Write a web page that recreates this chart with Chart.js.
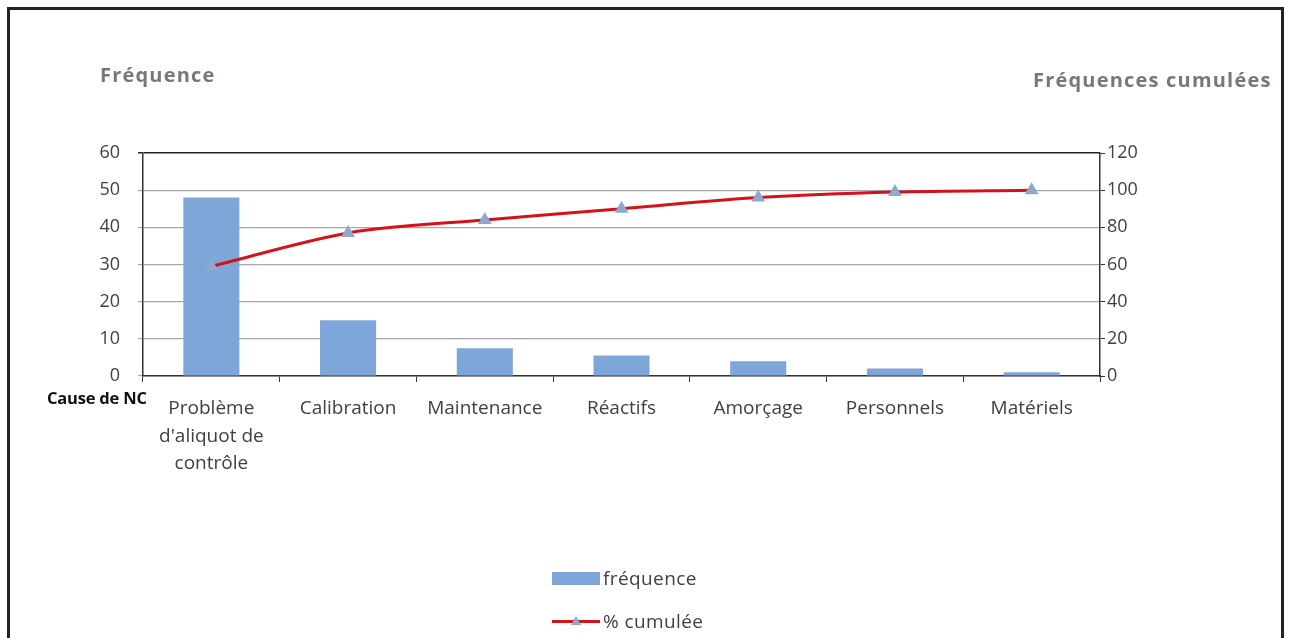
<!DOCTYPE html>
<html lang="fr">
<head>
<meta charset="utf-8">
<script src="https://cdn.jsdelivr.net/npm/chart.js@4.4.1/dist/chart.umd.min.js"></script>
<style>
  html, body { margin: 0; padding: 0; background: #fff; }
  body { width: 1289px; height: 638px; position: relative; overflow: hidden; font-family: 'Open Sans', sans-serif; }
  .frame { position: absolute; left: 7px; top: 7px; width: 1277px; height: 700px; border: 3px solid #222; box-sizing: border-box; }
  #wrap { position: absolute; left: 0; top: 0; width: 1289px; height: 638px; }
  .axis-title { position: absolute; font-weight: 700; font-size: 20px; letter-spacing: 1.2px; color: #7b7580; }
  .cause { position: absolute; left: 47px; top: 386px; font-size: 16.5px; font-weight: 700; color: #111; letter-spacing: -0.2px; }
  .legend { position: absolute; left: 552px; font-size: 19px; letter-spacing: 0.4px; color: #404040; display: flex; align-items: center; }
  .legend .sw { width: 48px; height: 13px; margin-right: 3px; position: relative; }
  .legend .bar { background: #7fa6d9; }
  .legend .line::before { content: ''; position: absolute; left: 0; right: 0; top: 5px; height: 3px; background: #d4121a; }
  .legend .line::after { content: ''; position: absolute; left: 19px; top: 1px; width: 0; height: 0;
    border-left: 5px solid transparent; border-right: 5px solid transparent; border-bottom: 9px solid #8fa8d0; }
</style>
</head>
<body>
<div class="frame"></div>
<div id="wrap"><canvas id="chart" width="1289" height="638"></canvas></div>
<div class="axis-title" style="left:100px; top:61px;">Fréquence</div>
<div class="axis-title" style="left:1033px; top:66px;">Fréquences cumulées</div>
<div class="cause">Cause de NC</div>
<div class="legend" style="top:565px;"><span class="sw bar"></span>fréquence</div>
<div class="legend" style="top:608px;"><span class="sw line"></span>% cumulée</div>
<script>
const causes = [
  ['Problème', "d'aliquot de", 'contrôle'],
  'Calibration',
  'Maintenance',
  'Réactifs',
  'Amorçage',
  'Personnels',
  'Matériels',
];
const frequence = [48, 15, 7.5, 5.5, 4, 2, 1];
const cumulee = [59, 77, 84, 90, 96, 99, 100];
const leftTicks = [0, 10, 20, 30, 40, 50, 60];
const rightTicks = [0, 20, 40, 60, 80, 100, 120];

const textColor = '#404040';
const xFont = { family: "'Open Sans', sans-serif", size: 19, lineHeight: 1.45 };
const yFont = { family: "'Open Sans', sans-serif", size: 18 };

const ctx = document.getElementById('chart').getContext('2d');
new Chart(ctx, {
  data: {
    labels: causes,
    datasets: [
      {
        type: 'line',
        label: '% cumulée',
        data: cumulee,
        yAxisID: 'y1',
        borderColor: '#d4121a',
        borderWidth: 3,
        tension: 0.3,
        pointStyle: 'triangle',
        pointRadius: 5,
        pointBackgroundColor: '#8fa8d0',
        pointBorderColor: '#8fa8d0',
        order: 0,
      },
      {
        type: 'bar',
        label: 'fréquence',
        data: frequence,
        yAxisID: 'y',
        backgroundColor: '#7fa6d9',
        barPercentage: 0.41,
        categoryPercentage: 1,
        order: 1,
      },
    ],
  },
  options: {
    responsive: false,
    animation: false,
    layout: { padding: { left: 93, right: 139, top: 153, bottom: 162 } },
    plugins: { legend: { display: false }, tooltip: { enabled: false } },
    scales: {
      x: {
        afterFit: (scale) => { scale.height = 100; },
        grid: { offset: true, drawOnChartArea: false, drawTicks: true, tickLength: 6, color: '#333' },
        border: { color: '#333', width: 1.5 },
        ticks: { color: textColor, font: xFont, maxRotation: 0, padding: 13 },
      },
      y: {
        position: 'left',
        min: 0,
        max: 60,
        afterFit: (scale) => { scale.width = 50; },
        afterBuildTicks: (scale) => { scale.ticks = leftTicks.map((value) => ({ value })); },
        grid: {
          color: (c) => (c.tick && c.tick.value === 60 ? '#222' : '#a8a8a8'),
          lineWidth: (c) => (c.tick && c.tick.value === 60 ? 1.5 : 1.2),
          tickLength: 5,
        },
        border: { color: '#333', width: 1.5 },
        ticks: { color: textColor, font: yFont, padding: 18 },
      },
      y1: {
        position: 'right',
        min: 0,
        max: 120,
        afterFit: (scale) => { scale.width = 50; },
        afterBuildTicks: (scale) => { scale.ticks = rightTicks.map((value) => ({ value })); },
        grid: { drawOnChartArea: false, tickLength: 5, color: '#333' },
        border: { color: '#333', width: 1.5 },
        ticks: { color: textColor, font: yFont, padding: 2 },
      },
    },
  },
});
</script>
</body>
</html>
